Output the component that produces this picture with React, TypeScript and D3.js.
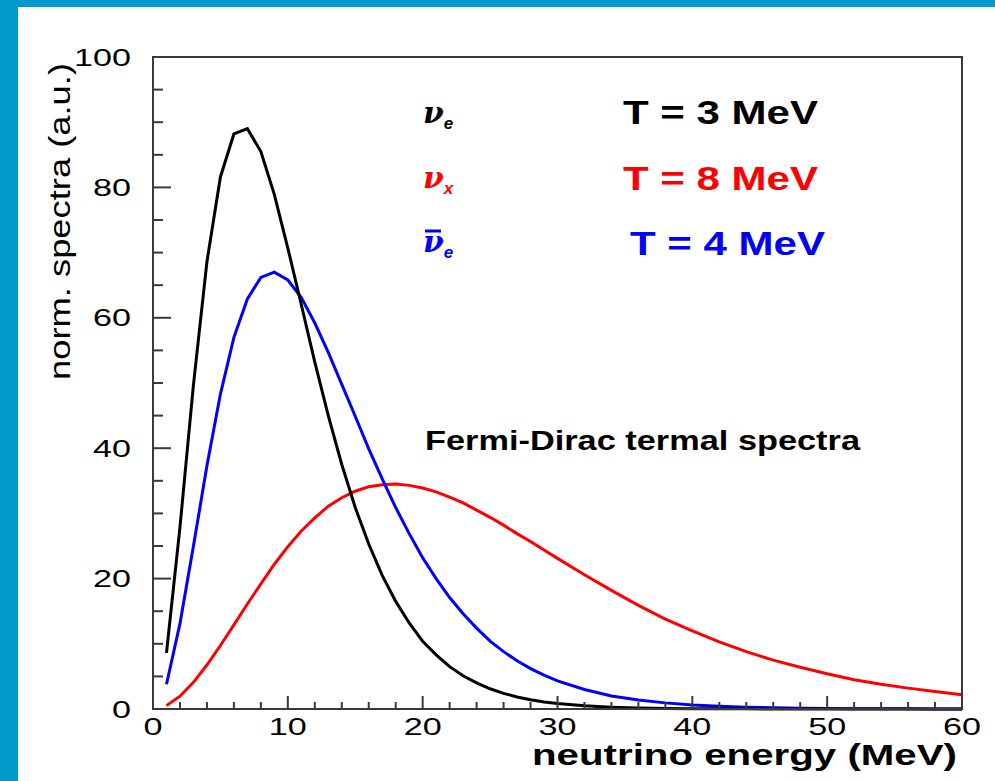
import React from 'react';
import * as d3 from 'd3';

// energy grid (MeV) shared by all three spectra
const energies = [
  1, 2, 3, 4, 5, 6, 7, 8, 9, 10, 11, 12, 13, 14, 15, 16, 17, 18, 19, 20,
  21, 22, 23, 24, 25, 26, 27, 28, 29, 30, 32, 34, 36, 38, 40, 42, 44, 46, 48,
  50, 52, 54, 56, 58, 60,
];

// nu_e, T = 3 MeV
const nuE = [
  8.6, 27.9, 49.7, 68.6, 81.6, 88.2, 89.0, 85.5, 78.9, 70.7, 62.0, 53.2, 45.0,
  37.5, 30.9, 25.3, 20.5, 16.5, 13.2, 10.4, 8.3, 6.5, 5.1, 4.0, 3.1, 2.4, 1.85,
  1.42, 1.09, 0.84, 0.49, 0.28, 0.16, 0.09, 0.05, 0.03, 0.02, 0.01, 0.01, 0, 0,
  0, 0, 0, 0,
];

// nu_x, T = 8 MeV
const nuX = [
  0.52, 1.96, 4.09, 6.75, 9.74, 12.9, 16.1, 19.2, 22.2, 24.9, 27.3, 29.3, 31.1,
  32.4, 33.4, 34.1, 34.4, 34.5, 34.3, 33.9, 33.3, 32.5, 31.6, 30.5, 29.4, 28.2,
  26.9, 25.7, 24.4, 23.1, 20.6, 18.2, 15.9, 13.8, 12.0, 10.3, 8.8, 7.5, 6.4,
  5.4, 4.5, 3.8, 3.2, 2.7, 2.2,
];

// anti nu_e, T = 4 MeV
const nuEbar = [
  3.8, 13.1, 25.0, 37.3, 48.3, 57.0, 62.9, 66.2, 67.0, 65.8, 63.1, 59.2, 54.7,
  49.8, 44.9, 39.9, 35.3, 30.9, 26.9, 23.2, 20.0, 17.1, 14.6, 12.4, 10.4, 8.8,
  7.4, 6.2, 5.2, 4.3, 3.0, 2.0, 1.39, 0.94, 0.63, 0.42, 0.28, 0.19, 0.12, 0.08,
  0.05, 0.03, 0.02, 0.01, 0.01,
];

const xTicks = [0, 10, 20, 30, 40, 50, 60];
const yTicks = [0, 20, 40, 60, 80, 100];

const W = 995;
const H = 781;
const left = 153, right = 962, top = 57, bottom = 709;
const font = 'Liberation Sans, Arial, sans-serif';

export default function App() {
  const x = d3.scaleLinear().domain([0, 60]).range([left, right]);
  const y = d3.scaleLinear().domain([0, 100]).range([bottom, top]);

  const line = (vals: number[]) =>
    d3.line<number>()
      .x((d, i) => x(energies[i]))
      .y((d) => y(d))(vals) || '';

  const xMinor = d3.range(0, 61, 2).filter((v) => v % 10 !== 0);
  const yMinor = d3.range(0, 101, 5).filter((v) => v % 20 !== 0);

  const series = [
    { vals: nuX, color: '#ff0000' },
    { vals: nuEbar, color: '#0000ff' },
    { vals: nuE, color: '#000000' },
  ];

  return (
    <div style={{ position: 'absolute', left: 0, top: 0 }}>
      <svg width={W} height={H} style={{ display: 'block' }}>
        <rect x={0} y={0} width={W} height={H} fill="#ffffff" />
        <rect x={0} y={0} width={W} height={7} fill="#0099cc" />
        <rect x={0} y={0} width={18} height={H} fill="#0099cc" />

        {/* curves */}
        {series.map((s, i) => (
          <path key={i} d={line(s.vals)} fill="none" stroke={s.color}
            strokeWidth={3} strokeLinejoin="miter" />
        ))}

        {/* frame */}
        <rect x={left} y={top} width={right - left} height={bottom - top}
          fill="none" stroke="#3a3a3a" strokeWidth={2} />

        {/* x ticks */}
        {xTicks.map((t) => (
          <line key={'xt' + t} x1={x(t)} x2={x(t)} y1={bottom} y2={bottom - 13}
            stroke="#3a3a3a" strokeWidth={2} />
        ))}
        {xMinor.map((t) => (
          <line key={'xm' + t} x1={x(t)} x2={x(t)} y1={bottom} y2={bottom - 7}
            stroke="#3a3a3a" strokeWidth={2} />
        ))}
        {/* y ticks */}
        {yTicks.map((t) => (
          <line key={'yt' + t} x1={left} x2={left + 18} y1={y(t)} y2={y(t)}
            stroke="#3a3a3a" strokeWidth={2} />
        ))}
        {yMinor.map((t) => (
          <line key={'ym' + t} x1={left} x2={left + 10} y1={y(t)} y2={y(t)}
            stroke="#3a3a3a" strokeWidth={2} />
        ))}

        {/* tick labels */}
        {xTicks.map((t) => (
          <text key={'xl' + t} x={x(t)} y={735} textAnchor="middle"
            fontFamily={font} fontSize={24}
            textLength={String(t).length * 19} lengthAdjust="spacingAndGlyphs">
            {t}
          </text>
        ))}
        {yTicks.map((t) => (
          <text key={'yl' + t} x={131} y={y(t) + 8.5} textAnchor="end"
            fontFamily={font} fontSize={24}
            textLength={String(t).length * 19} lengthAdjust="spacingAndGlyphs">
            {t}
          </text>
        ))}

        {/* axis titles */}
        <text x={532} y={765} fontFamily={font} fontSize={29} fontWeight="bold"
          textLength={425} lengthAdjust="spacingAndGlyphs">
          neutrino energy (MeV)
        </text>
        <text transform="translate(70,380) rotate(-90)" fontFamily={font}
          fontSize={29} textLength={317} lengthAdjust="spacingAndGlyphs">
          norm. spectra (a.u.)
        </text>

        {/* legend */}
        <g fontFamily="DejaVu Serif, serif" fontStyle="italic" fontWeight="bold">
          <text x={423} y={123} fontSize={30} fill="#000">
            ν<tspan fontSize={17} dy={6} fontFamily={font}>e</tspan>
          </text>
          <text x={423} y={188} fontSize={30} fill="#ff0000">
            ν<tspan fontSize={17} dy={6} fontFamily={font}>x</tspan>
          </text>
          <text x={423} y={252} fontSize={30} fill="#0000ff">
            ν<tspan fontSize={17} dy={6} fontFamily={font}>e</tspan>
          </text>
          <line x1={425} x2={441} y1={231} y2={231} stroke="#0000ff" strokeWidth={3} />
        </g>
        <g fontFamily={font} fontWeight="bold" fontSize={33}>
          <text x={623} y={124} fill="#000" textLength={195} lengthAdjust="spacingAndGlyphs">T = 3 MeV</text>
          <text x={623} y={190} fill="#ff0000" textLength={195} lengthAdjust="spacingAndGlyphs">T = 8 MeV</text>
          <text x={630} y={255} fill="#0000ff" textLength={195} lengthAdjust="spacingAndGlyphs">T = 4 MeV</text>
        </g>
        <text x={425} y={450} fontFamily={font} fontWeight="bold" fontSize={27}
          textLength={435} lengthAdjust="spacingAndGlyphs">
          Fermi-Dirac termal spectra
        </text>
      </svg>
    </div>
  );
}
